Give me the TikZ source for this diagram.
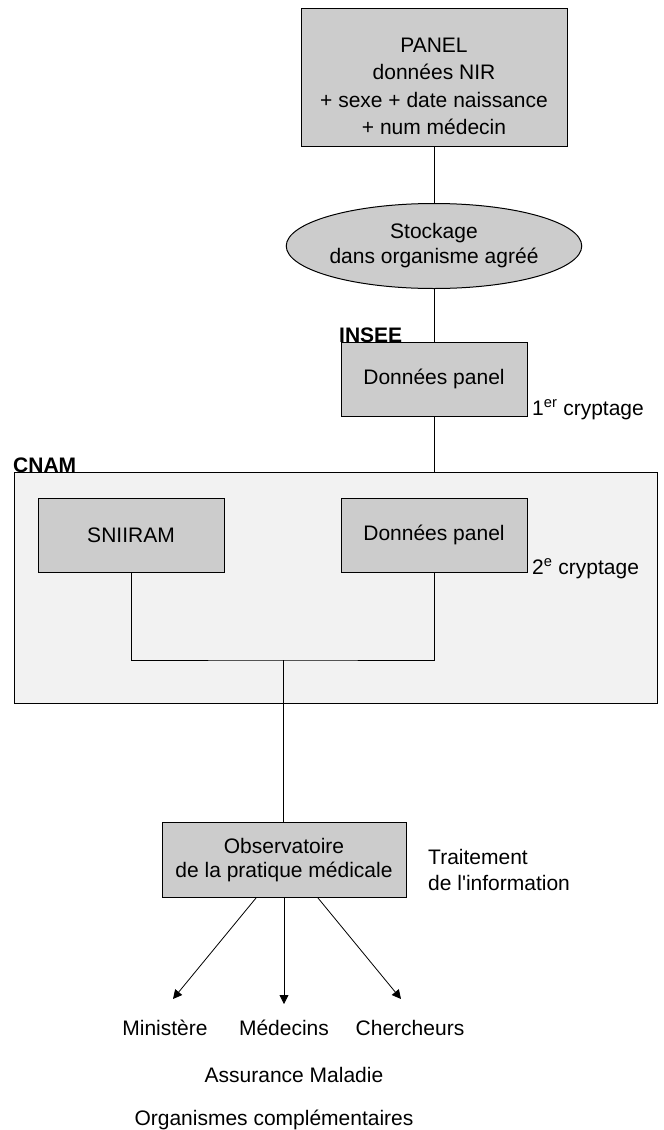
\documentclass[tikz,border=0pt]{standalone}
\usepackage{fontspec}
\setmainfont{Liberation Sans}[Ligatures=TeXOff]
\usepackage{tikz}
\usetikzlibrary{shapes.geometric}
\usetikzlibrary{arrows.meta}

\begin{document}
\begin{tikzpicture}[x=1pt, y=-1pt,
        every node/.style={font=\fontsize{21}{24}\selectfont, inner sep=0pt},
        boite/.style={draw, fill=gray!40, line width=1pt, align=center},
        fleche/.style={-{Triangle[length=9pt,width=9pt]}, line width=0.8pt}]
            \useasboundingbox (0, 0) rectangle (664, 1130);

            \node[boite, minimum width=266, minimum height=138,
                font=\fontsize{21}{27.5}\selectfont] (panel) at (434, 77)
                {\rule{0pt}{33pt}PANEL\\donn\'ees NIR\\+ sexe + date naissance\\+ num m\'edecin};
            \node[boite, ellipse, minimum width=290, minimum height=85,
                font=\fontsize{21}{25}\selectfont] (stock) at (434, 246)
                {Stockage\\dans organisme agr\'e\'e};

            \node[boite, minimum width=186, minimum height=74] (insee) at (434, 379) {Donn\'ees panel};
            \node[anchor=base west, font=\fontsize{21}{24}\bfseries] (inseelabel) at (339, 342) {INSEE};
            \node[anchor=base west] (crypt1) at (532, 415) {1\textsuperscript{er} cryptage};

            %\draw (0, 0) node {CNAM};
            \node[draw, fill=gray!10, line width=1pt, minimum width=643, minimum height=231] (cnam) at (335.5, 587.5) {};
            \node[anchor=base west, font=\fontsize{21}{24}\bfseries] (cnamlabel) at (13, 472) {CNAM};
            \node[boite, minimum width=186, minimum height=74] (sniiram) at (131, 535) {SNIIRAM};
            \node[boite, minimum width=186, minimum height=74] (panel2) at (434, 535) {Donn\'ees panel};
            \node[anchor=base west] (crypt2) at (532, 574) {2\textsuperscript{e} cryptage};
            \coordinate (jonction) at (283, 660);

            \node[boite, minimum width=244, minimum height=75] (obs) at (284, 860)
                {Observatoire\\de la pratique m\'edicale};
            \node[anchor=west, align=left, font=\fontsize{21}{26}\selectfont] (traitement) at (428, 870)
                {Traitement\\de l'information};

            \node[anchor=base] (ministere) at (165, 1035) {Minist\`ere};
            \node[anchor=base] (medecins) at (284, 1035) {M\'edecins};
            \node[anchor=base] (chercheurs) at (410, 1035) {Chercheurs};
            \node[anchor=base] (assurance) at (294, 1082) {Assurance Maladie};
            \node[anchor=base] (organismes) at (274, 1125) {Organismes compl\'ementaires};
            \coordinate (tipMin) at (173, 999);
            \coordinate (tipMed) at (284, 1004);
            \coordinate (tipCher) at (401, 999);

            \draw[line width=1pt] (panel.south) -- (stock.north);
            \draw[line width=1pt] (stock.south) -- (insee.north);
            \draw[line width=1pt] (insee.south) -- (insee.south |- cnam.north);
            \draw[line width=0.8pt] (sniiram.south) |- (jonction) -| (panel2.south);
            \draw[line width=1pt] (jonction) -- (jonction |- obs.north);

            \draw[fleche] ([xshift=-28pt]obs.south) -- (tipMin);
            \draw[fleche] (obs.south) -- (tipMed);
            \draw[fleche] ([xshift=34pt]obs.south) -- (tipCher);
        \end{tikzpicture}
\end{document}
